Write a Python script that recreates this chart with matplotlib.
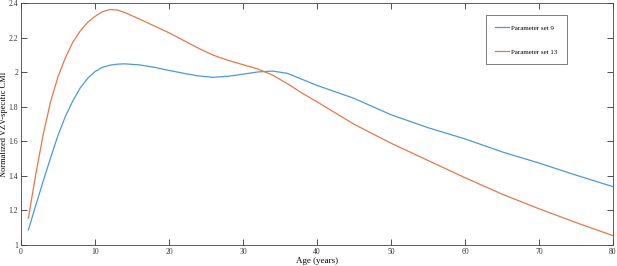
import numpy as np
import matplotlib
matplotlib.use('Agg')
import matplotlib.pyplot as plt
from matplotlib.ticker import FormatStrFormatter

# values
age = [1, 2, 3, 4, 5, 6, 7, 8, 9, 10, 11, 12, 13, 14, 16, 18, 20, 22, 24, 26, 28,
       30, 32, 34, 36, 38, 40, 45, 50, 55, 60, 65, 70, 75, 80]
set9 = [1.087, 1.23, 1.37, 1.505, 1.635, 1.745, 1.835, 1.91, 1.965, 2.005, 2.03,
        2.042, 2.048, 2.05, 2.044, 2.03, 2.012, 1.995, 1.98, 1.972, 1.978,
        1.99, 2.003, 2.008, 1.995, 1.96, 1.925, 1.85, 1.755, 1.68, 1.615, 1.54,
        1.475, 1.405, 1.338]
set13 = [1.156, 1.41, 1.64, 1.83, 1.975, 2.085, 2.175, 2.24, 2.29, 2.325, 2.352,
         2.365, 2.362, 2.348, 2.31, 2.27, 2.23, 2.185, 2.14, 2.10, 2.07,
         2.045, 2.02, 1.985, 1.935, 1.88, 1.83, 1.70, 1.59, 1.49, 1.39, 1.295,
         1.21, 1.13, 1.054]
labels = ['Parameter set 9', 'Parameter set 13']

plt.rcParams['font.family'] = ['Liberation Serif', 'DejaVu Serif']
plt.rcParams['font.size'] = 6

fig = plt.figure(figsize=(6.17, 2.66), dpi=100)
ax = fig.add_axes([0.034, 0.079, 0.9595, 0.908])

ax.plot(age, set9, color='#4a9ad4', lw=0.9, label=labels[0])
ax.plot(age, set13, color='#e5784a', lw=0.9, label=labels[1])

ax.set_xlim(0, 80)
ax.set_ylim(1, 2.4)
ax.set_xticks(np.arange(0, 81, 10))
ax.set_yticks(np.arange(1, 2.41, 0.2))
ax.yaxis.set_major_formatter(FormatStrFormatter('%g'))
ax.tick_params(direction='in', top=True, right=True, length=4, width=0.6,
               colors='#333333', labelsize=5.5, pad=2)
for s in ax.spines.values():
    s.set_color('#444444')
    s.set_linewidth(0.6)

ax.set_xlabel('Age (years)', fontsize=6.5, labelpad=1)
ax.set_ylabel('Normalized VZV-specific CMI', fontsize=6)
ax.yaxis.set_label_coords(-0.0215, 0.5)

leg = ax.legend(loc='upper left', bbox_to_anchor=(0.785, 0.952), fontsize=5,
                frameon=True, fancybox=False, edgecolor='#444444',
                labelspacing=2.6, handlelength=2.0, borderpad=1.4,
                borderaxespad=0, handletextpad=0.3)
leg.get_frame().set_linewidth(0.6)

fig.savefig('out.png', dpi=100)
